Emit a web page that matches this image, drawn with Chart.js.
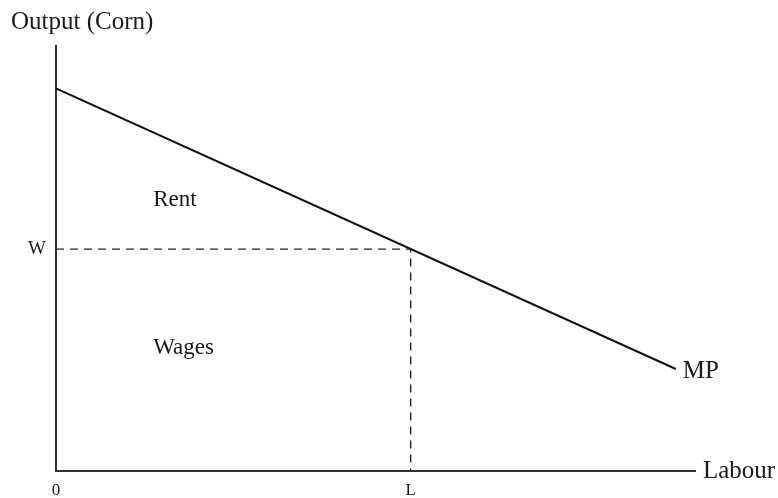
<!DOCTYPE html>
<html>
<head>
<meta charset="utf-8">
<script src="https://cdn.jsdelivr.net/npm/chart.js@4/dist/chart.umd.min.js"></script>
<style>
  html, body { margin: 0; padding: 0; background: #fff; }
  canvas { display: block; }
</style>
</head>
<body>
<canvas id="rentChart" width="778" height="498"></canvas>
<script>
  // values (arbitrary units, axes 0..100)
  const mpX = [0, 97];
  const mpY = [90, 24];
  const labourL = 55.5;
  const wageW = 52.2;
  const xTickLabels = ['0', 'L'];
  const yTickLabels = ['W'];
  const areaLabels = ['Rent', 'Wages'];
  const areaX = [15.2, 15.2];
  const areaY = [63.8, 29];

  const serif = '"Liberation Serif", "Times New Roman", serif';
  const ink = '#1a1a1a';

  // free text: area names, curve name and axis titles
  const textPlugin = {
    id: 'textLabels',
    afterDraw(chart) {
      const { ctx, chartArea, scales } = chart;
      ctx.save();
      ctx.fillStyle = ink;
      ctx.textBaseline = 'middle';
      ctx.textAlign = 'left';
      ctx.font = '23px ' + serif;
      areaLabels.forEach((t, i) => {
        ctx.fillText(t, scales.x.getPixelForValue(areaX[i]), scales.y.getPixelForValue(areaY[i]));
      });
      ctx.font = '25px ' + serif;
      const lastX = mpX[mpX.length - 1];
      const lastY = mpY[mpY.length - 1];
      ctx.fillText('MP', scales.x.getPixelForValue(lastX) + 7, scales.y.getPixelForValue(lastY) + 2);
      ctx.fillText('Labour', chartArea.right + 8, chartArea.bottom);
      ctx.fillText('Output (Corn)', 11, 22);
      ctx.restore();
    }
  };

  new Chart(document.getElementById('rentChart'), {
    type: 'scatter',
    data: {
      datasets: [
        {
          label: 'MP',
          data: mpX.map((x, i) => ({ x: x, y: mpY[i] })),
          showLine: true,
          borderColor: '#111',
          borderWidth: 2,
          pointRadius: 0
        },
        {
          label: 'wage',
          data: [{ x: 0, y: wageW }, { x: labourL, y: wageW }, { x: labourL, y: 0 }],
          showLine: true,
          borderColor: '#222',
          borderWidth: 1.4,
          borderDash: [8, 6],
          pointRadius: 0
        }
      ]
    },
    options: {
      responsive: false,
      animation: false,
      layout: { padding: { top: 46, right: 83, left: 0, bottom: 0 } },
      plugins: {
        legend: { display: false },
        tooltip: { enabled: false }
      },
      scales: {
        x: {
          type: 'linear',
          min: 0,
          max: 100,
          grid: { display: false, drawTicks: false },
          border: { display: true, color: '#333', width: 2 },
          afterBuildTicks: s => { s.ticks = [{ value: 0 }, { value: labourL }]; },
          afterFit: s => { s.height = 27; },
          ticks: {
            padding: 9,
            labelOffset: 0,
            color: ink,
            font: { family: serif, size: 17 },
            callback: (v, i) => xTickLabels[i]
          }
        },
        y: {
          type: 'linear',
          min: 0,
          max: 100,
          grid: { display: false, drawTicks: false },
          border: { display: true, color: '#333', width: 2 },
          afterBuildTicks: s => { s.ticks = [{ value: wageW }]; },
          afterFit: s => { s.width = 56; },
          ticks: {
            padding: 10,
            color: ink,
            font: { family: serif, size: 19 },
            callback: (v, i) => yTickLabels[i]
          }
        }
      }
    },
    plugins: [textPlugin]
  });
</script>
</body>
</html>
